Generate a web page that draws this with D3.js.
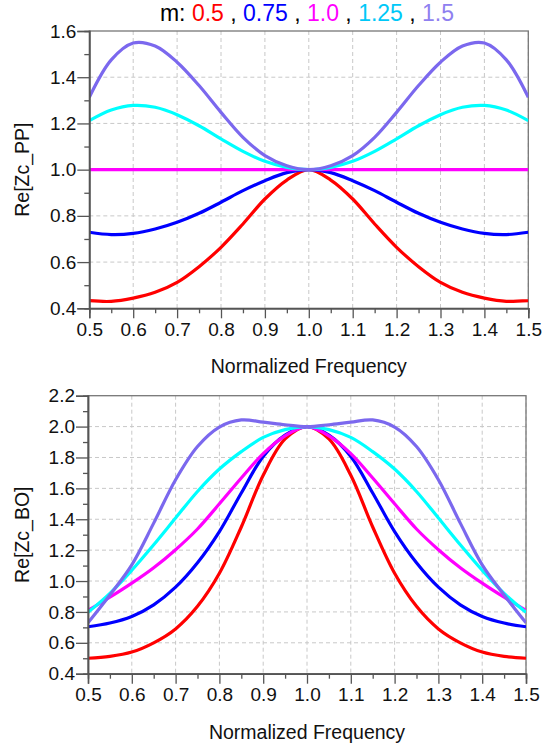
<!DOCTYPE html>
<html><head><meta charset="utf-8">
<script src="https://cdn.jsdelivr.net/npm/d3@7"></script>
<style>
html,body{margin:0;padding:0;background:#fff;}
svg{display:block;font-family:Arial,"Liberation Sans",sans-serif;}
</style></head>
<body><svg id="c" width="554" height="752"></svg>
<script>
// ---- data ----
const freq = [0.5,0.55,0.6,0.65,0.7,0.75,0.8,0.85,0.9,0.95,1.0,1.05,1.1,1.15,1.2,1.25,1.3,1.35,1.4,1.45,1.5];
const mValues = ["0.5","0.75","1.0","1.25","1.5"];
const lineColors = ["#ff0000","#0000ff","#ff00ff","#00ffff","#7b68ee"];
const titleColors = ["#ff0000","#0000ff","#ff00ff","#00c8f8","#8f80f0"];

const pp_m050 = [0.433,0.43,0.444,0.469,0.512,0.58,0.664,0.765,0.873,0.955,1.0,0.955,0.873,0.765,0.664,0.58,0.512,0.469,0.444,0.43,0.433];
const pp_m075 = [0.729,0.719,0.724,0.743,0.772,0.811,0.859,0.909,0.952,0.987,1.0,0.987,0.952,0.909,0.859,0.811,0.772,0.743,0.724,0.719,0.729];
const pp_m100 = [1,1,1,1,1,1,1,1,1,1,1,1,1,1,1,1,1,1,1,1,1];
const pp_m125 = [1.212,1.258,1.278,1.27,1.238,1.19,1.133,1.079,1.036,1.01,1.0,1.01,1.036,1.079,1.133,1.19,1.238,1.27,1.278,1.258,1.212];
const pp_m150 = [1.313,1.475,1.548,1.535,1.465,1.364,1.248,1.14,1.061,1.017,1.0,1.017,1.061,1.14,1.248,1.364,1.465,1.535,1.548,1.475,1.313];

const bo_m050 = [0.50,0.512,0.54,0.60,0.69,0.836,1.05,1.35,1.685,1.92,2.0,1.92,1.685,1.35,1.05,0.836,0.69,0.60,0.54,0.512,0.50];
const bo_m075 = [0.704,0.728,0.771,0.846,0.96,1.118,1.32,1.57,1.807,1.945,2.0,1.945,1.807,1.57,1.32,1.118,0.96,0.846,0.771,0.728,0.704];
const bo_m100 = [0.81,0.895,0.986,1.086,1.203,1.337,1.5,1.667,1.825,1.94,2.0,1.94,1.825,1.667,1.5,1.337,1.203,1.086,0.986,0.895,0.81];
const bo_m125 = [0.797,0.92,1.07,1.235,1.408,1.58,1.725,1.838,1.93,1.98,2.0,1.98,1.93,1.838,1.725,1.58,1.408,1.235,1.07,0.92,0.797];
const bo_m150 = [0.73,0.91,1.105,1.375,1.656,1.871,1.997,2.043,2.029,2.012,2.0,2.012,2.029,2.043,1.997,1.871,1.656,1.375,1.105,0.91,0.73];

const xTicks = [0.5,0.6,0.7,0.8,0.9,1.0,1.1,1.2,1.3,1.4,1.5];
const xMinor = [0.55,0.65,0.75,0.85,0.95,1.05,1.15,1.25,1.35,1.45];
const ppTicks = [0.4,0.6,0.8,1.0,1.2,1.4,1.6];
const ppMinor = [0.5,0.7,0.9,1.1,1.3,1.5];
const boTicks = [0.4,0.6,0.8,1.0,1.2,1.4,1.6,1.8,2.0,2.2];
const boMinor = [0.5,0.7,0.9,1.1,1.3,1.5,1.7,1.9,2.1];
const xLabel = "Normalized Frequency";

const svg = d3.select("#c");

// title
const title = svg.append("text").attr("x", 307).attr("y", 21).attr("text-anchor","middle")
  .attr("font-size", 23);
title.append("tspan").attr("fill","#000").text("m: ");
mValues.forEach((m,i)=>{
  title.append("tspan").attr("fill", titleColors[i]).text(m);
  if (i < mValues.length-1) title.append("tspan").attr("fill","#000").text(" , ");
});

function panel(cfg){
  const x = d3.scaleLinear().domain([0.5,1.5]).range([cfg.left, cfg.right]);
  const y = d3.scaleLinear().domain(cfg.yDomain).range([cfg.bottom, cfg.top]);
  const g = svg.append("g");
  // grid
  g.selectAll(".vg").data(xTicks.slice(1)).enter().append("line")
    .attr("x1", d=>x(d)).attr("x2", d=>x(d)).attr("y1", cfg.top).attr("y2", cfg.bottom)
    .attr("stroke","#c8c8c8").attr("stroke-width",1).attr("stroke-dasharray","4,3");
  g.selectAll(".hg").data(cfg.yTicks.slice(1, -1)).enter().append("line")
    .attr("x1", cfg.left).attr("x2", cfg.right).attr("y1", d=>y(d)).attr("y2", d=>y(d))
    .attr("stroke","#c8c8c8").attr("stroke-width",1).attr("stroke-dasharray","4,3");
  // frame top/right
  g.append("rect").attr("x", cfg.left).attr("y", cfg.top).attr("width", cfg.right-cfg.left)
    .attr("height", cfg.bottom-cfg.top).attr("fill","none").attr("stroke","#777").attr("stroke-width",1.3);
  // clip
  const cid = "clip"+cfg.id;
  svg.append("clipPath").attr("id", cid).append("rect")
    .attr("x", cfg.left).attr("y", cfg.top-2).attr("width", cfg.right-cfg.left).attr("height", cfg.bottom-cfg.top+4);
  const line = d3.line().x((d,i)=>x(freq[i])).y(d=>y(d)).curve(d3.curveCatmullRom.alpha(0.5));
  const lg = g.append("g").attr("clip-path", `url(#${cid})`);
  cfg.series.forEach((s,i)=>{
    lg.append("path").attr("d", line(s)).attr("fill","none")
      .attr("stroke", lineColors[i]).attr("stroke-width", 3.2).attr("stroke-linejoin","round");
  });
  // axes
  const xAxis = d3.axisBottom(x).tickValues(xTicks).tickFormat(d3.format(".1f")).tickSize(10).tickPadding(4);
  const xg = g.append("g").attr("transform", `translate(0,${cfg.bottom})`).call(xAxis);
  const xm = g.append("g").attr("transform", `translate(0,${cfg.bottom})`)
    .call(d3.axisBottom(x).tickValues(xMinor).tickFormat("").tickSize(5));
  const yAxis = d3.axisLeft(y).tickValues(cfg.yTicks).tickFormat(d3.format(".1f")).tickSize(12).tickPadding(1);
  const yg = g.append("g").attr("transform", `translate(${cfg.left},0)`).call(yAxis);
  const ym = g.append("g").attr("transform", `translate(${cfg.left},0)`)
    .call(d3.axisLeft(y).tickValues(cfg.yMinor).tickFormat("").tickSize(5));
  [xg,xm,yg,ym].forEach(a=>{
    a.select(".domain").attr("stroke","#555").attr("stroke-width",1.5);
    a.selectAll(".tick line").attr("stroke","#555").attr("stroke-width",1.3);
    a.selectAll(".tick text").attr("fill","#111").attr("font-size",19).attr("font-family","Arial, 'Liberation Sans', sans-serif");
  });
  // labels
  g.append("text").attr("x",(cfg.left+cfg.right)/2).attr("y", cfg.bottom+65).attr("text-anchor","middle")
    .attr("font-size",19.5).attr("fill","#111").text(xLabel);
  g.append("text").attr("transform", `translate(${cfg.ylx},${(cfg.top+cfg.bottom)/2}) rotate(-90)`)
    .attr("text-anchor","middle").attr("font-size",19.5).attr("fill","#111").text(cfg.yLabel);
}

panel({id:"pp", left:89.3, right:528.3, top:31, bottom:308.3, yDomain:[0.4,1.6],
  yTicks:ppTicks, yMinor:ppMinor, yLabel:"Re[Zc_PP]", ylx:29,
  series:[pp_m050,pp_m075,pp_m100,pp_m125,pp_m150]});
panel({id:"bo", left:88, right:526, top:395.7, bottom:673.7, yDomain:[0.4,2.2],
  yTicks:boTicks, yMinor:boMinor, yLabel:"Re[Zc_BO]", ylx:29,
  series:[bo_m050,bo_m075,bo_m100,bo_m125,bo_m150]});
</script></body></html>
